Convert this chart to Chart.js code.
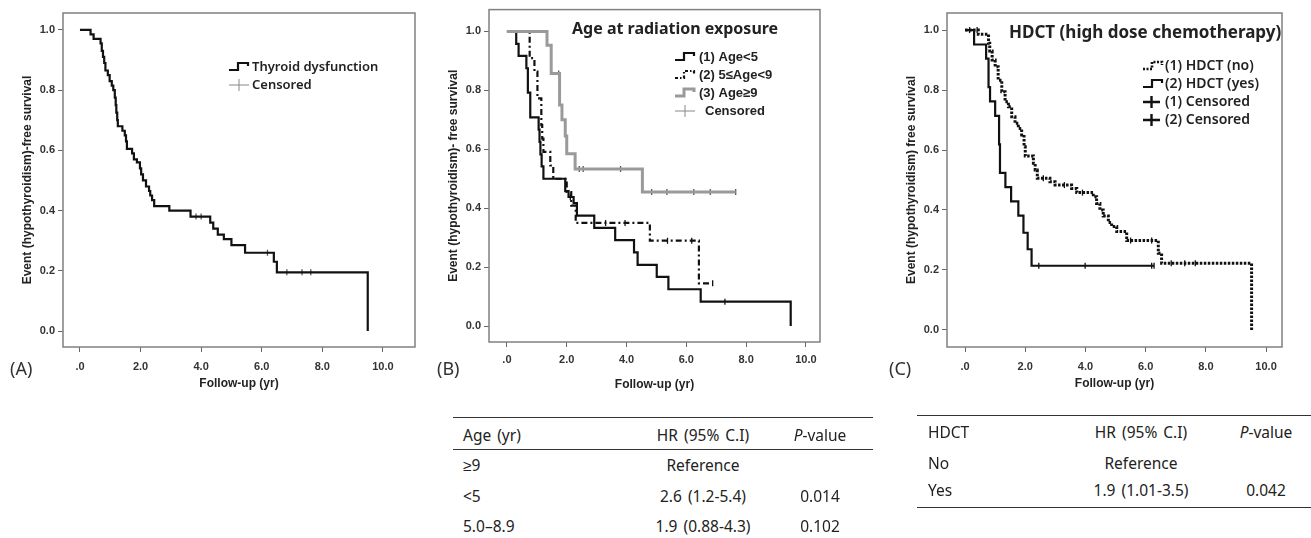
<!DOCTYPE html>
<html>
<head>
<meta charset="utf-8">
<script src="https://cdn.jsdelivr.net/npm/chart.js@4"></script>
<style>
body{margin:0;background:#fff;width:1311px;height:538px;position:relative;overflow:hidden;font-family:'Noto Sans',sans-serif;color:#222}
.box{position:absolute;top:0;height:400px}
.tag{position:absolute;top:356px;font:18px 'Noto Sans';color:#333}
.t{position:absolute;font-size:15.5px;line-height:20px;word-spacing:2px;white-space:nowrap;color:#222}
.c{transform:translateX(-50%)}
.rule{position:absolute;height:0;border-top:1.6px solid #333}
</style>
</head>
<body>
<div class="box" style="left:0;width:430px"><canvas id="chartA"></canvas></div>
<div class="box" style="left:430px;width:440px"><canvas id="chartB"></canvas></div>
<div class="box" style="left:880px;width:431px"><canvas id="chartC"></canvas></div>
<div class="tag" style="left:10px">(A)</div>
<div class="tag" style="left:437px">(B)</div>
<div class="tag" style="left:889px">(C)</div>
<div id="tables"></div>
<script>
const xTicks = [0, 2, 4, 6, 8, 10];
const yTicks = [0, 0.2, 0.4, 0.6, 0.8, 1.0];

// (A) all patients
const timeA = [0, 0.35, 0.45, 0.68, 0.72, 0.76, 0.80, 0.84, 0.92, 0.98, 1.05, 1.10, 1.15, 1.18, 1.20, 1.23, 1.25, 1.40, 1.48, 1.52, 1.55, 1.72, 1.78, 1.88, 1.98, 2.02, 2.08, 2.18, 2.28, 2.32, 2.38, 2.45, 2.95, 3.65, 4.30, 4.40, 4.55, 4.75, 5.00, 5.45, 6.40, 6.50, 9.50];
const survA = [1, 0.985, 0.97, 0.955, 0.93, 0.91, 0.89, 0.865, 0.85, 0.83, 0.815, 0.80, 0.775, 0.75, 0.725, 0.70, 0.68, 0.665, 0.65, 0.63, 0.605, 0.59, 0.57, 0.56, 0.54, 0.52, 0.50, 0.48, 0.465, 0.45, 0.435, 0.415, 0.40, 0.38, 0.36, 0.34, 0.32, 0.305, 0.285, 0.26, 0.23, 0.195, 0];
const censA = [3.83, 4.0, 6.19, 6.83, 7.33, 7.62];

// (B) age at radiation exposure
const timeB1 = [0, 0.31, 0.39, 0.65, 0.70, 0.78, 1.06, 1.09, 1.12, 1.16, 1.22, 1.95, 2.06, 2.23, 2.34, 2.92, 3.62, 4.25, 4.37, 5.01, 5.40, 6.48, 9.49];
const survB1 = [1, 0.958, 0.917, 0.875, 0.792, 0.708, 0.667, 0.625, 0.583, 0.542, 0.50, 0.458, 0.438, 0.417, 0.375, 0.333, 0.292, 0.25, 0.208, 0.167, 0.125, 0.083, 0];
const censB1 = [2.12, 7.29];
const timeB2 = [0, 0.76, 0.92, 1.02, 1.15, 1.18, 1.22, 1.45, 1.55, 2.0, 2.15, 2.3, 4.78, 6.42, 6.88];
const survB2 = [1, 0.909, 0.864, 0.773, 0.682, 0.636, 0.591, 0.545, 0.50, 0.455, 0.409, 0.35, 0.29, 0.145, 0.145];
const censB2 = [3.3, 3.95, 5.37, 6.18, 6.88];
const timeB3 = [0, 1.34, 1.48, 1.76, 1.84, 1.95, 2.0, 2.28, 4.53, 7.65];
const survB3 = [1, 0.953, 0.857, 0.75, 0.70, 0.645, 0.585, 0.533, 0.455, 0.455];
const censB3 = [1.73, 2.42, 2.55, 3.8, 4.84, 5.35, 6.25, 6.8, 7.65];

// (C) HDCT
const timeC1 = [0, 0.44, 0.78, 0.82, 0.9, 1.0, 1.1, 1.22, 1.33, 1.44, 1.55, 1.66, 1.77, 1.88, 1.96, 2.0, 2.27, 2.33, 2.4, 2.82, 2.99, 3.54, 3.71, 4.26, 4.37, 4.48, 4.59, 4.76, 4.87, 5.04, 5.37, 6.42, 6.53, 9.52];
const survC1 = [1, 0.986, 0.956, 0.93, 0.9, 0.878, 0.833, 0.794, 0.761, 0.744, 0.711, 0.689, 0.672, 0.65, 0.611, 0.58, 0.556, 0.533, 0.506, 0.494, 0.483, 0.472, 0.458, 0.444, 0.422, 0.40, 0.38, 0.358, 0.345, 0.328, 0.298, 0.256, 0.222, 0];
const censC1 = [0.15, 0.4, 2.6, 3.3, 3.9, 5.5, 6.2, 6.85, 7.3, 7.65];
const timeC2 = [0, 0.30, 0.70, 0.78, 0.83, 1.0, 1.13, 1.16, 1.34, 1.53, 1.77, 1.94, 2.08, 2.21, 6.28];
const survC2 = [1, 0.952, 0.905, 0.81, 0.762, 0.714, 0.619, 0.524, 0.476, 0.429, 0.381, 0.324, 0.269, 0.214, 0.214];
const censC2 = [2.45, 3.99, 6.2, 6.28];

const tableBHead = ['Age (yr)', 'HR (95% C.I)', 'P-value'];
const tableBRows = [['≥9', 'Reference', ''], ['<5', '2.6 (1.2-5.4)', '0.014'], ['5.0–8.9', '1.9 (0.88-4.3)', '0.102']];
const tableCHead = ['HDCT', 'HR (95% C.I)', 'P-value'];
const tableCRows = [['No', 'Reference', ''], ['Yes', '1.9 (1.01-3.5)', '0.042']];

function survAt(times, surv, t) {
  let s = surv[0];
  times.forEach((x, i) => { if (x <= t) s = surv[i]; });
  return s;
}

function curve(times, surv, style) {
  return Object.assign({
    data: times.map((t, i) => ({x: t, y: surv[i]})),
    stepped: 'before', pointRadius: 0, fill: false,
    borderColor: '#111', borderWidth: 2.2, borderCapStyle: 'butt'
  }, style);
}

function marks(times, surv, cens, color) {
  return {
    data: cens.map(t => ({x: t, y: survAt(times, surv, t)})),
    showLine: false, pointStyle: 'line', rotation: 90, pointRadius: 3,
    pointBorderWidth: 1.3, pointBorderColor: color || '#111'
  };
}

function drawSample(ctx, kind, x, y) {
  ctx.save();
  ctx.lineWidth = 2.2;
  ctx.strokeStyle = '#111';
  if (kind === 'gray') { ctx.strokeStyle = '#9a9a9a'; ctx.lineWidth = 3; }
  if (kind === 'dash') ctx.setLineDash([3, 2, 1.5, 2]);
  if (kind === 'dot') { ctx.setLineDash([2, 1.5]); ctx.lineWidth = 2.6; }
  ctx.beginPath();
  if (kind === 'cens' || kind === 'censBold') {
    const bold = kind === 'censBold';
    ctx.strokeStyle = bold ? '#111' : '#888';
    ctx.lineWidth = bold ? 2.4 : 1;
    const w = bold ? 17 : 20;
    ctx.moveTo(x, y); ctx.lineTo(x + w, y);
    ctx.moveTo(x + w / 2, y - 6); ctx.lineTo(x + w / 2, y + 6);
  } else {
    ctx.moveTo(x, y + 3); ctx.lineTo(x + 9, y + 3); ctx.lineTo(x + 9, y - 4);
    ctx.lineTo(x + 19, y - 4); ctx.lineTo(x + 19, y - 1);
  }
  ctx.stroke();
  ctx.restore();
}

const decor = {
  id: 'decor',
  beforeDatasetsDraw(chart) {
    const {ctx, chartArea: a} = chart;
    ctx.save();
    ctx.strokeStyle = '#808080';
    ctx.lineWidth = 1.5;
    ctx.strokeRect(a.left, a.top, a.right - a.left, a.bottom - a.top);
    ctx.restore();
  },
  afterDraw(chart, args, o) {
    const ctx = chart.ctx;
    ctx.save();
    ctx.textBaseline = 'middle';
    ctx.fillStyle = '#222';
    if (o.title) {
      ctx.font = o.titleFont;
      ctx.fillText(o.title, o.titleX, o.titleY);
    }
    o.items.forEach((it, i) => {
      const y = o.y + i * o.gap;
      drawSample(ctx, it.kind, o.x, y);
      ctx.font = o.font;
      ctx.fillStyle = '#222';
      ctx.fillText(it.label, o.x + o.textOff + (it.extra || 0), y);
    });
    ctx.restore();
  }
};

const tickFont = {family: 'Liberation Sans', weight: 'bold', size: 11};
const titleFont = {family: 'Liberation Sans', weight: 'bold', size: 12};

function kmChart(id, datasets, g) {
  return new Chart(document.getElementById(id), {
    type: 'line',
    data: {datasets: datasets},
    plugins: [decor],
    options: {
      responsive: true,
      maintainAspectRatio: false,
      animation: false,
      events: [],
      layout: {padding: {left: 0, top: g.top, right: g.right, bottom: 0}},
      plugins: {legend: {display: false}, tooltip: {enabled: false}, decor: g.decor},
      scales: {
        x: {
          type: 'linear', min: g.xMin, max: g.xMax,
          afterBuildTicks: s => { s.ticks = xTicks.map(v => ({value: v})); },
          afterFit: s => { s.height = g.xH; },
          ticks: {font: tickFont, color: '#333', padding: g.xTickPad, maxRotation: 0,
            callback: v => v === 0 ? '.0' : v.toFixed(1)},
          grid: {drawOnChartArea: false, tickLength: 5, color: '#666'},
          border: {display: false},
          title: {display: true, text: 'Follow-up (yr)', font: titleFont, color: '#222',
            padding: {top: 0, bottom: g.xTitlePad}}
        },
        y: {
          min: g.yMin, max: g.yMax,
          afterBuildTicks: s => { s.ticks = yTicks.map(v => ({value: v})); },
          afterFit: s => { s.width = g.yW; },
          ticks: {font: tickFont, color: '#333', padding: 3, callback: v => v.toFixed(1)},
          grid: {drawOnChartArea: false, tickLength: 5, color: '#666'},
          border: {display: false},
          title: {display: true, text: g.yTitle, font: titleFont, color: '#222',
            padding: {top: g.yTitlePad, bottom: 0}}
        }
      }
    }
  });
}

kmChart('chartA', [
  curve(timeA, survA),
  marks(timeA, survA, censA, '#555')
], {
  top: 13, right: 15, yW: 63, xH: 53, xTitlePad: 9, yTitlePad: 20, xTickPad: 8,
  xMin: -0.56, xMax: 11.06, yMin: -0.053, yMax: 1.056,
  yTitle: 'Event (hypothyroidism)-free survival',
  decor: {
    x: 229, y: 67, gap: 18, textOff: 23,
    font: '600 13px "Noto Sans"',
    items: [{kind: 'step', label: 'Thyroid dysfunction'}, {kind: 'cens', label: 'Censored'}]
  }
});

kmChart('chartB', [
  curve(timeB3, survB3, {borderColor: '#9a9a9a', borderWidth: 3}),
  curve(timeB1, survB1),
  curve(timeB2, survB2, {borderDash: [6, 3, 2, 3]}),
  marks(timeB3, survB3, censB3, '#555'),
  marks(timeB1, survB1, censB1),
  marks(timeB2, survB2, censB2)
], {
  top: 5, right: 50, yW: 59, xH: 58, xTitlePad: 8, yTitlePad: 16, xTickPad: 6,
  xMin: -0.6, xMax: 10.47, yMin: -0.054, yMax: 1.074,
  yTitle: 'Event (hypothyroidism)- free survival',
  decor: {
    title: 'Age at radiation exposure', titleFont: 'bold 16px "Noto Sans"', titleX: 142, titleY: 29,
    x: 245, y: 57, gap: 18, textOff: 24,
    font: 'bold 13px "Liberation Sans"',
    items: [{kind: 'step', label: '(1) Age<5'}, {kind: 'dash', label: '(2) 5≤Age<9'},
      {kind: 'gray', label: '(3) Age≥9'}, {kind: 'cens', label: 'Censored', extra: 6}]
  }
});

kmChart('chartC', [
  curve(timeC1, survC1, {borderDash: [2.5, 1.5], borderWidth: 3}),
  curve(timeC2, survC2),
  marks(timeC1, survC1, censC1),
  marks(timeC2, survC2, censC2)
], {
  top: 13, right: 29, yW: 67, xH: 53, xTitlePad: 9, yTitlePad: 24, xTickPad: 8,
  xMin: -0.6, xMax: 10.53, yMin: -0.057, yMax: 1.057,
  yTitle: 'Event (hypothyroidism) free survival',
  decor: {
    title: 'HDCT (high dose chemotherapy)', titleFont: 'bold 17px "Noto Sans"', titleX: 129, titleY: 33,
    x: 263, y: 66, gap: 18, textOff: 22,
    font: '600 14px "Noto Sans"',
    items: [{kind: 'dot', label: '(1) HDCT (no)'}, {kind: 'step', label: '(2) HDCT (yes)'},
      {kind: 'censBold', label: '(1) Censored'}, {kind: 'censBold', label: '(2) Censored'}]
  }
});

function cellHtml(s) {
  return s === 'P-value' ? '<i>P</i>-value' : s;
}

function buildTable(head, rows, g) {
  const root = document.getElementById('tables');
  g.rules.forEach(y => {
    const r = document.createElement('div');
    r.className = 'rule';
    r.style.cssText = `left:${g.left}px;width:${g.right - g.left}px;top:${y}px`;
    root.appendChild(r);
  });
  [head].concat(rows).forEach((row, ri) => {
    const cy = ri === 0 ? g.headY : g.rowYs[ri - 1];
    row.forEach((txt, ci) => {
      if (!txt) return;
      const d = document.createElement('div');
      d.className = ci === 0 ? 't' : 't c';
      const x = ci === 0 ? g.col0 : (ci === 1 ? g.col1 : g.col2);
      d.style.left = x + 'px';
      d.style.top = (cy - 10) + 'px';
      d.innerHTML = cellHtml(txt);
      root.appendChild(d);
    });
  });
}

buildTable(tableBHead, tableBRows, {
  left: 453, right: 873, rules: [417, 449], headY: 435, rowYs: [465, 496, 526],
  col0: 463, col1: 703, col2: 820
});
buildTable(tableCHead, tableCRows, {
  left: 917, right: 1311, rules: [415, 507], headY: 432, rowYs: [463, 490],
  col0: 928, col1: 1141, col2: 1266
});
</script>
</body>
</html>
